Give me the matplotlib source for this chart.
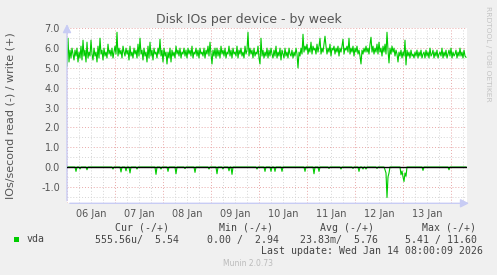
import numpy as np
import pandas as pd
import matplotlib
matplotlib.use("Agg")
import matplotlib.pyplot as plt

# ---- data (30-minute samples, Jan 6 00:00 onwards) ----
write_vals = [
    5.1, 6.5, 5.3, 5.9, 5.5, 6.0, 5.7, 5.4, 5.9, 5.6, 6.0, 5.3, 5.8, 5.5, 6.1, 5.4, 6.4, 5.6, 5.9, 5.3,
    6.3, 5.5, 5.8, 5.6, 6.4, 5.7, 5.4, 6.0, 5.6, 5.8, 5.3, 6.1, 5.5, 6.5, 5.7, 5.9, 5.4, 6.0, 5.6, 5.8,
    5.5, 6.2, 5.7, 5.9, 5.6, 6.0, 5.5, 5.8, 6.1, 5.7,
    6.8, 5.6, 6.0, 5.7, 5.9, 5.5, 6.1, 5.8, 5.6, 6.0, 5.7, 5.9, 5.4, 6.1, 5.6, 5.8, 5.5, 6.0, 5.7, 5.9,
    5.5, 6.2, 5.6, 6.5, 5.7, 5.9, 5.4, 6.0, 5.6, 5.8, 5.3, 6.1, 5.5, 6.3, 5.6, 5.9, 5.4, 6.0, 5.7, 5.8,
    5.5, 6.0, 5.7, 6.45, 5.6, 5.9, 5.3, 6.0, 5.6, 5.8,
    5.2, 5.8, 5.5, 6.0, 5.3, 5.9, 5.6, 5.8, 5.5, 6.1, 5.7, 5.9, 5.6, 6.0, 5.5, 5.8, 5.7, 6.0, 5.6, 5.9,
    5.5, 6.0, 5.7, 5.9, 5.6, 6.1, 5.5, 5.8, 5.7, 6.0, 5.6, 5.9, 5.5, 6.0, 5.7, 5.8, 5.6, 6.0, 5.5, 5.9,
    5.7, 6.1, 5.6, 6.3, 5.7, 5.2, 5.9, 5.6, 6.0, 5.5,
    6.0, 5.6, 5.9, 5.5, 6.1, 5.7, 5.9, 5.6, 6.0, 5.5, 5.8, 5.7, 6.1, 5.6, 5.9, 5.5, 6.0, 5.7, 5.8, 5.6,
    6.1, 5.5, 5.9, 5.7, 6.0, 5.6, 5.8, 5.5, 6.1, 5.7, 5.9, 6.8, 5.6, 6.0, 5.7, 5.9, 5.5, 6.0, 5.6, 5.8,
    5.7, 6.1, 5.5, 5.2, 6.5, 5.6, 5.9, 5.5, 5.8, 5.6,
    6.0, 5.5, 5.9, 5.6, 6.0, 5.7, 5.5, 5.9, 5.6, 6.1, 5.5, 5.8, 5.6, 6.0, 5.4, 5.9, 5.7, 5.5, 6.0, 5.6,
    5.8, 5.5, 6.0, 5.7, 5.6, 5.9, 5.5, 5.8, 5.6, 6.0, 5.7, 5.0, 5.8, 5.6, 6.0, 5.7, 6.7, 5.8, 6.1, 5.9,
    6.2, 5.7, 6.0, 5.8, 6.3, 5.7, 6.1, 5.9, 6.0, 5.7,
    6.2, 5.8, 6.1, 6.5, 5.7, 6.0, 5.8, 6.2, 6.6, 6.1, 5.7, 6.0, 5.8, 6.2, 5.6, 6.0, 5.9, 6.1, 5.7, 6.0,
    5.8, 6.1, 5.6, 6.0, 5.8, 6.1, 6.45, 5.7, 6.0, 5.9, 6.1, 5.8, 6.5, 5.7, 6.0, 5.8, 6.1, 5.6, 6.0, 5.8,
    6.1, 5.7, 5.9, 5.6, 5.2, 5.9, 5.7, 6.0, 5.8, 6.1,
    5.8, 6.0, 5.7, 6.2, 6.55, 5.8, 6.1, 5.7, 6.0, 5.8, 6.2, 5.7, 6.3, 5.8, 6.0, 5.6, 6.1, 5.8, 6.2, 5.7,
    6.8, 5.9, 5.25, 6.0, 5.7, 6.1, 5.8, 6.0, 5.6, 5.9, 5.7, 5.3, 5.8, 5.6, 5.9, 5.5, 5.8, 5.6, 6.4, 5.15,
    5.9, 5.6, 5.8, 5.5, 5.9, 5.6, 5.7, 5.5, 5.8, 5.6,
    5.9, 5.5, 5.8, 5.6, 5.9, 5.5, 5.7, 5.8, 5.5, 5.9, 5.6, 5.8, 5.5, 6.0, 5.6, 5.7, 5.9, 5.5, 5.8, 5.6,
    5.9, 5.5, 5.7, 5.8, 5.6, 6.0, 5.5, 5.8, 5.6, 5.9, 5.5, 5.7, 5.9, 5.6, 6.0, 5.5, 5.8, 5.6, 5.7, 5.9,
    5.5, 5.8, 5.6, 6.0, 5.6, 5.8, 5.5, 5.9, 5.6, 5.54,
]
read_vals = [
    0, 0, 0, 0, 0, 0, 0, 0, 0, -0.22, 0, 0, 0, -0.1, 0, 0, 0, 0, 0, 0, -0.14, 0, 0, 0, 0,
    0, 0, 0, 0, 0, 0, 0, 0, 0, 0, 0, 0, 0, 0, 0, 0, 0, 0, 0, 0, 0, -0.1, 0, 0, 0,
    0, 0, 0, 0, -0.25, 0, 0, 0, 0, -0.19, 0, 0, 0, -0.3, 0, 0, 0, 0, 0, 0, -0.1, 0, 0, 0, 0,
    0, 0, 0, 0, 0, 0, 0, 0, 0, 0, 0, 0, 0, 0, -0.37, 0, 0, 0, 0, -0.1, 0, 0, 0, 0, 0,
    0, -0.22, 0, 0, 0, 0, 0, 0, 0, -0.34, 0, 0, 0, 0, 0, 0, 0, 0, -0.08, 0, 0, 0, 0, 0, 0,
    0, 0, 0, -0.27, 0, 0, 0, 0, 0, 0, 0, 0, 0, 0, 0, 0, 0, -0.1, 0, 0, 0, 0, 0, 0, 0,
    -0.34, 0, 0, 0, 0, 0, -0.1, 0, 0, 0, 0, 0, -0.19, 0, 0, -0.37, 0, 0, 0, 0, 0, 0, 0, 0, 0,
    0, 0, 0, 0, 0, 0, 0, 0, 0, 0, 0, 0, 0, 0, 0, -0.1, 0, 0, 0, 0, 0, 0, 0, -0.22, 0,
    0, 0, 0, 0, -0.22, 0, 0, 0, -0.22, 0, 0, 0, 0, 0, 0, -0.22, 0, 0, 0, 0, 0, 0, 0, 0, 0,
    0, 0, 0, 0, 0, 0, 0, 0, 0, 0, 0, 0, 0, -0.22, 0, 0, 0, 0, 0, 0, 0, 0, -0.34, 0, 0,
    0, 0, -0.22, 0, 0, 0, 0, 0, 0, 0, 0, 0, -0.07, 0, 0, 0, 0, 0, 0, 0, 0, 0, 0, 0, -0.1,
    0, 0, 0, 0, 0, 0, 0, 0, 0, 0, 0, -0.07, 0, 0, 0, 0, 0, -0.22, 0, 0, 0, -0.1, 0, 0, -0.1,
    0, 0, 0, 0, 0, 0, 0, 0, 0, 0, -0.07, 0, 0, 0, 0, 0, 0, 0, -0.14, -0.3, -1.54, -0.5, -0.3, 0, 0,
    0, 0, 0, 0, 0, 0, 0, 0, 0, -0.39, -0.2, -0.5, -0.73, -0.3, -0.47, 0, 0, 0, 0, 0, 0, 0, 0, 0, 0,
    0, 0, 0, 0, 0, 0, -0.17, 0, 0, 0, 0, 0, 0, 0, 0, 0, 0, 0, 0, 0, 0, 0, 0, 0, 0,
    0, 0, 0, 0, 0, 0, 0, -0.14, 0, 0, 0, 0, 0, 0, 0, 0, 0, 0, 0, 0, 0, 0, 0, 0, 0,
]
day_labels = ["06 Jan", "07 Jan", "08 Jan", "09 Jan", "10 Jan", "11 Jan", "12 Jan", "13 Jan"]
y_ticks = [-1.0, 0.0, 1.0, 2.0, 3.0, 4.0, 5.0, 6.0, 7.0]
legend_headers = ["Cur (-/+)", "Min (-/+)", "Avg (-/+)", "Max (-/+)"]
legend_values = ["555.56u/  5.54", "0.00 /  2.94", "23.83m/  5.76", "5.41 / 11.60"]
series_name = "vda"
last_update = "Last update: Wed Jan 14 08:00:09 2026"

start = pd.Timestamp("2026-01-06 00:00")
def hours_for(vals):
    t = pd.date_range(start, periods=len(vals), freq="30min")
    return (t - start) / pd.Timedelta(hours=1)
x_end = 200.0  # Jan 14 08:00

# ---- figure ----
W, H = 497, 275
fig = plt.figure(figsize=(W / 100, H / 100), dpi=100, facecolor="#F0F0F0")
L, R, T, B = 67, 467, 28.3, 203.3
ax = fig.add_axes([L / W, 1 - B / H, (R - L) / W, (B - T) / H])
ax.set_facecolor("white")
ax.set_xlim(0, x_end)
ax.set_ylim(-1.83, 7.0)

major_c = "#E8A8A8"
minor_c = "#D4D4D4"
for h in np.arange(0, x_end + 0.1, 6):
    if h % 24 == 0:
        ax.axvline(h, color=major_c, lw=0.7, ls=(0, (1, 2)), zorder=1)
    else:
        ax.axvline(h, color=minor_c, lw=0.7, ls=(0, (1, 2)), zorder=0.9)
ax.set_yticks(y_ticks)
ax.set_yticklabels([f"{v:.1f}" for v in y_ticks])
ax.set_yticks(np.arange(-1.5, 7.0, 1.0), minor=True)
ax.grid(axis="y", which="major", color=major_c, lw=0.7, ls=(0, (1, 2)), zorder=1)
ax.grid(axis="y", which="minor", color=minor_c, lw=0.7, ls=(0, (1, 2)), zorder=0.9)
ax.set_axisbelow(True)

ax.set_xticks(np.arange(12, 24 * len(day_labels), 24))
ax.set_xticklabels(day_labels)

ax.tick_params(axis="both", which="both", length=0, labelsize=7, colors="#555555")
ax.tick_params(axis="y", pad=5)
ax.tick_params(axis="x", pad=4)
for s in ax.spines.values():
    s.set_visible(False)

ax.plot(hours_for(write_vals), write_vals, color="#00CC00", lw=0.8, zorder=3)
ax.plot(hours_for(read_vals), read_vals, color="#00CC00", lw=0.8, zorder=3)
ax.axhline(0, color="black", lw=1.0, zorder=4)

axis_c = "#C8CCF4"
ax.annotate("", xy=(1.012, 0), xytext=(0, 0), xycoords="axes fraction",
            arrowprops=dict(arrowstyle="-|>,head_length=0.5,head_width=0.25", color=axis_c, lw=1),
            annotation_clip=False)
ax.annotate("", xy=(0, 1.04), xytext=(0, 0), xycoords="axes fraction",
            arrowprops=dict(arrowstyle="-|>,head_length=0.5,head_width=0.25", color=axis_c, lw=1),
            annotation_clip=False)

def px(x, y):
    return x / W, 1 - y / H

fig.text(*px(248.5, 19), "Disk IOs per device - by week", ha="center", va="center",
         fontsize=9, color="#555555")
fig.text(*px(11, 115.6), "IOs/second read (-) / write (+)", ha="center", va="center",
         rotation=90, fontsize=8, color="#555555")
fig.text(*px(488, 54), "RRDTOOL / TOBI OETIKER", ha="center", va="center",
         rotation=-90, fontsize=5.4, color="#C4C4C4")

mono = "DejaVu Sans Mono"
hdr_right = [169, 273, 374, 476]
val_right = [179, 279, 378, 477]
for t, xr in zip(legend_headers, hdr_right):
    fig.text(*px(xr, 228), t, ha="right", va="center", fontsize=7.1, family=mono, color="#444444")
for t, xr in zip(legend_values, val_right):
    fig.text(*px(xr, 239.5), t, ha="right", va="center", fontsize=7.1, family=mono, color="#444444")
fig.patches.append(plt.Rectangle(px(14, 242), 5 / W, 5 / H, transform=fig.transFigure,
                                 facecolor="#00CC00", edgecolor="none"))
fig.text(*px(27, 239.5), series_name, ha="left", va="center", fontsize=7.1, family=mono, color="#444444")
fig.text(*px(483, 251.5), last_update, ha="right", va="center", fontsize=7.1, family=mono, color="#444444")
fig.text(*px(248, 264), "Munin 2.0.73", ha="center", va="center", fontsize=5.5, color="#BBBBBB")

fig.savefig("out.png", dpi=100, facecolor=fig.get_facecolor())
